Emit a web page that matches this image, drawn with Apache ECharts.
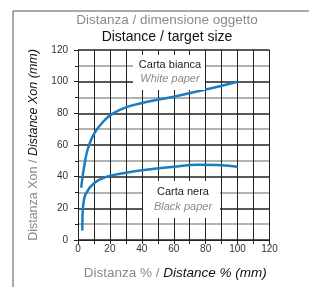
<!DOCTYPE html>
<html>
<head>
<meta charset="utf-8">
<script src="https://cdn.jsdelivr.net/npm/echarts@6/dist/echarts.min.js"></script>
<style>
html, body { margin: 0; padding: 0; background: #fff; }
#chart { width: 309px; height: 287px; }
</style>
</head>
<body>
<div id="chart"></div>
<script>
// curve points: [distance %, Xon mm]
var whitePaper = [[2, 33], [3, 41], [4, 47], [6, 57], [10, 67], [16, 75], [22, 80], [30, 83.8],
	[40, 86.5], [60, 90.5], [80, 95], [100, 100]];
var blackPaper = [[2.7, 6], [2.8, 15], [3.5, 24], [5, 29.5], [10, 35.8], [18, 40], [30, 42.5],
	[40, 44], [60, 46.3], [75, 47.5], [90, 47.2], [100, 46.3]];
var xTicks = [0, 20, 40, 60, 80, 100, 120];
var yTicks = [0, 20, 40, 60, 80, 100, 120];

var font = '"Liberation Sans Narrow", "Liberation Sans", sans-serif';

function initChart(){
	var myChart = echarts.init(document.getElementById('chart'));
	var options = {
		animation: false,
		textStyle: { fontFamily: font },
		graphic: [
			{ type: 'line', shape: { x1: 13, y1: 11, x2: 309, y2: 11 }, style: { stroke: '#555', lineWidth: 1 } },
			{ type: 'line', shape: { x1: 13, y1: 11, x2: 13, y2: 287 }, style: { stroke: '#555', lineWidth: 1 } },
			{ type: 'text', x: 167, y: 20, z: 10,
				style: { text: 'Distanza / dimensione oggetto', fill: '#8a8a8a', font: '13.5px ' + font,
					align: 'center', verticalAlign: 'middle' } },
			{ type: 'text', x: 167, y: 37, z: 10,
				style: { text: 'Distance / target size', fill: '#111', font: '14px ' + font,
					align: 'center', verticalAlign: 'middle' } },
			// etichette curve
			{ type: 'rect', shape: { x: 133, y: 55, width: 72, height: 35 }, style: { fill: '#fff' }, z: 5 },
			{ type: 'text', x: 170, y: 65, z: 10,
				style: { text: 'Carta bianca', fill: '#222', font: '11px ' + font, align: 'center', verticalAlign: 'middle' } },
			{ type: 'text', x: 170, y: 79, z: 10,
				style: { text: 'White paper', fill: '#8a8a8a', font: 'italic 11px ' + font, align: 'center', verticalAlign: 'middle' } },
			{ type: 'rect', shape: { x: 143, y: 181, width: 77, height: 37 }, style: { fill: '#fff' }, z: 5 },
			{ type: 'text', x: 183, y: 192, z: 10,
				style: { text: 'Carta nera', fill: '#222', font: '11px ' + font, align: 'center', verticalAlign: 'middle' } },
			{ type: 'text', x: 183, y: 207, z: 10,
				style: { text: 'Black paper', fill: '#8a8a8a', font: 'italic 11px ' + font, align: 'center', verticalAlign: 'middle' } }
		],
		grid: { left: 78, right: 39.5, top: 50, bottom: 47 },
		xAxis: {
			type: 'value', min: 0, max: 120, interval: 20,
			name: '{a|Distanza % / }{b|Distance % (mm)}',
			nameLocation: 'middle', nameGap: 26,
			nameTextStyle: {
				padding: [0, 0, 0, 3],
				rich: {
					a: { color: '#8a8a8a', fontSize: 13.5, fontFamily: font },
					b: { color: '#111', fontSize: 13.5, fontStyle: 'italic', fontFamily: font }
				}
			},
			axisLine: { lineStyle: { color: '#222', width: 1 } },
			axisTick: { show: true, length: 4, lineStyle: { color: '#222' } },
			minorTick: { show: true, splitNumber: 2, length: 4, lineStyle: { color: '#222' } },
			axisLabel: { color: '#333', fontSize: 10, margin: 4,
				formatter: function(v){ return xTicks.indexOf(v) >= 0 ? v : ''; } },
			splitLine: { show: true, lineStyle: { color: '#222', width: 1 } },
			minorSplitLine: { show: true, lineStyle: { color: '#222', width: 1 } }
		},
		yAxis: {
			type: 'value', min: 0, max: 120, interval: 20,
			name: '{a|Distanza Xon / }{b|Distance Xon (mm)}',
			nameLocation: 'middle', nameGap: 38, nameRotate: 90,
			nameTextStyle: {
				rich: {
					a: { color: '#8a8a8a', fontSize: 12.5, fontFamily: font },
					b: { color: '#111', fontSize: 12.5, fontStyle: 'italic', fontFamily: font }
				}
			},
			axisLine: { show: true, lineStyle: { color: '#222', width: 1 } },
			axisTick: { show: true, length: 4, lineStyle: { color: '#222' } },
			minorTick: { show: true, splitNumber: 2, length: 3, lineStyle: { color: '#222' } },
			axisLabel: { color: '#333', fontSize: 10, margin: 10,
				formatter: function(v){ return yTicks.indexOf(v) >= 0 ? v : ''; } },
			splitLine: { show: true, lineStyle: { color: '#222', width: 1.5 } },
			minorSplitLine: { show: true, lineStyle: { color: '#999', width: 1.5 } }
		},
		series: [
			{ name: 'White paper', type: 'line', data: whitePaper, smooth: 0.4, showSymbol: false,
				lineStyle: { color: '#1a7cc1', width: 2.5 }, z: 3 },
			{ name: 'Black paper', type: 'line', data: blackPaper, smooth: 0.4, showSymbol: false,
				lineStyle: { color: '#1a7cc1', width: 2.5 }, z: 3 }
		]
	};
	myChart.setOption(options);
}
initChart();
</script>
</body>
</html>
